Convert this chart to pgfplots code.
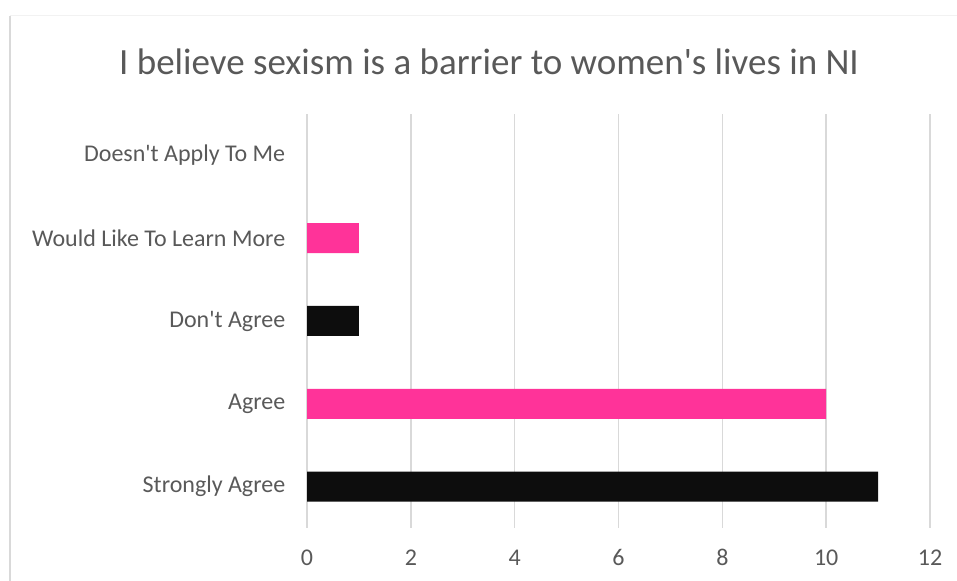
\documentclass[border=0pt]{standalone}
\usepackage{pgfplots}
\pgfplotsset{compat=1.18}
\usepackage{fontspec}
\setmainfont{Carlito}[Numbers=Lining]
\definecolor{txt}{HTML}{595959}
\definecolor{gridc}{HTML}{D9D9D9}
\definecolor{pinkbar}{HTML}{FF3399}
\definecolor{blackbar}{HTML}{0D0D0D}
\begin{document}
\begin{tikzpicture}[x=1bp,y=1bp]
\path[use as bounding box] (0,0) rectangle (957,581);
\draw[gridc, line width=1.5bp] (10,0) -- (10,565);
\draw[black!5, line width=1bp] (10,565) -- (957,565);
\node[txt, font=\fontsize{37bp}{40bp}\selectfont] at (489,519) {I believe sexism is a barrier to women\textquotesingle s lives in NI};
\begin{axis}[
  at={(307bp,53bp)}, anchor=south west,
  scale only axis, width=623bp, height=414bp,
  xmin=0, xmax=12, ymin=-0.5, ymax=4.5,
  xtick={0,2,...,12},
  xticklabels={0,2,4,6,8,10,12},
  ytick={0,1,2,3,4},
  yticklabels={Strongly Agree,Agree,Don\textquotesingle t Agree,Would Like To Learn More,Doesn\textquotesingle t Apply To Me},
  axis line style={draw=none},
  tick style={draw=none},
  xmajorgrids, ymajorgrids=false,
  major grid style={draw=gridc, line width=1.5bp},
  ticklabel style={txt, font=\fontsize{24bp}{26bp}\selectfont},
  xticklabel style={anchor=base, yshift=-38bp},
  yticklabel style={xshift=-14bp},
  xbar, bar width=30bp, bar shift=0pt,
]
\addplot[fill=blackbar, draw=none] coordinates {(11,0) (1,2)};
\addplot[fill=pinkbar, draw=none] coordinates {(10,1) (1,3)};
\addplot[draw=none, fill=none] coordinates {(0,4)};
\end{axis}
\end{tikzpicture}
\end{document}
